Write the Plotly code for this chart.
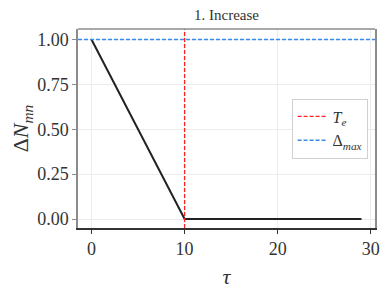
import plotly.graph_objects as go

tau = list(range(30))
delta_n = [1.0, 0.9, 0.8, 0.7, 0.6, 0.5, 0.4, 0.3, 0.2, 0.1] + [0.0] * 20
t_e = 10
delta_max = 1.0
x_ticks = [0, 10, 20, 30]
y_ticks = [0.0, 0.25, 0.5, 0.75, 1.0]

FONT = "Liberation Serif"
X_RANGE = [-1.45, 30.45]
Y_RANGE = [-0.05, 1.058]

fig = go.Figure()
fig.add_trace(go.Scatter(x=tau, y=delta_n, mode="lines",
                         line=dict(color="#222222", width=2), showlegend=False))
fig.add_trace(go.Scatter(x=[t_e, t_e], y=Y_RANGE, mode="lines",
                         line=dict(color="#ff2020", width=1.3, dash="4px,2px"),
                         name="<i>T</i><sub><i>e</i></sub>"))
fig.add_trace(go.Scatter(x=X_RANGE, y=[delta_max, delta_max], mode="lines",
                         line=dict(color="#3a8ae6", width=1.5, dash="4px,2px"),
                         name="Δ<sub><i>max</i></sub>"))

fig.add_shape(type="line", xref="paper", yref="paper", x0=0, x1=1, y0=1, y1=1,
              line=dict(color="#8c8c8c", width=1.5))

fig.update_layout(
    width=382, height=282,
    margin=dict(l=70, r=15, t=21, b=62, autoexpand=False),
    paper_bgcolor="white", plot_bgcolor="white",
    font=dict(family=FONT, color="#333333"),
    title=dict(text="1. Increase", x=0.5, xref="paper", y=0.975, yanchor="middle",
               font=dict(size=15, family=FONT, color="#333333")),
    xaxis=dict(range=X_RANGE, tickvals=x_ticks, ticks="outside", ticklen=4,
               tickcolor="#333333", showline=True, linecolor="#333333", linewidth=1.5,
               showgrid=True, gridcolor="#ececec", gridwidth=1, zeroline=False,
               automargin=False,
               tickfont=dict(size=18, family=FONT, color="#333333"),
               title=dict(text="<i>τ</i>", font=dict(size=22, family=FONT, color="#333333"),
                          standoff=10)),
    yaxis=dict(range=Y_RANGE, tickvals=y_ticks, tickformat=".2f", ticks="outside",
               ticklen=4, tickcolor="#8c8c8c", showline=True, linecolor="#8c8c8c",
               linewidth=1.5, mirror=True, automargin=False,
               showgrid=True, gridcolor="#ececec", gridwidth=1, zeroline=False,
               tickfont=dict(size=18, family=FONT, color="#333333"),
               title=dict(text="Δ<i>N</i><sub><i>mn</i></sub>",
                          font=dict(size=22, family=FONT, color="#333333"), standoff=8)),
    legend=dict(x=0.975, y=0.5, xanchor="right", yanchor="middle",
                bgcolor="rgba(255,255,255,0.9)", bordercolor="#d0d0d0", borderwidth=1,
                font=dict(size=16, family=FONT, color="#333333"),
                itemwidth=30, tracegroupgap=2),
)

fig.write_html("out.html")
